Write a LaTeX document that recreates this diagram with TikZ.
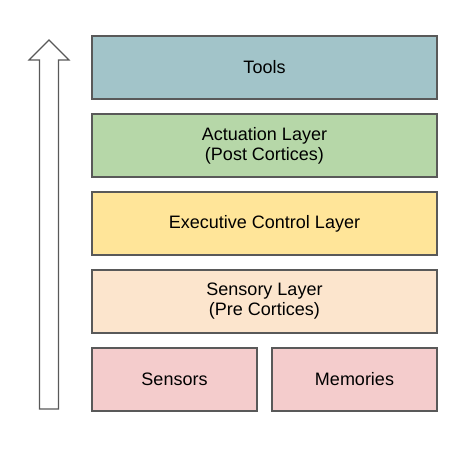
\documentclass[tikz,border=0pt]{standalone}
\usepackage{fontspec}
\setmainfont{Liberation Sans}
\usetikzlibrary{positioning}
\definecolor{boxline}{HTML}{595959}
\definecolor{toolsfill}{HTML}{A2C4C9}
\definecolor{actfill}{HTML}{B6D7A8}
\definecolor{execfill}{HTML}{FFE599}
\definecolor{sensoryfill}{HTML}{FCE5CD}
\definecolor{inputfill}{HTML}{F4CCCC}

\begin{document}
\begin{tikzpicture}[x=1pt, y=1pt, node distance=15pt, every node/.style={font=\fontsize{18}{20}\selectfont, align=center}]
\tikzset{layerbox/.style={draw=boxline, line width=1.2pt, minimum width=345pt, minimum height=63pt, inner sep=0pt, outer sep=0pt}}
\useasboundingbox (0,0) rectangle (473,-457);
\node[layerbox, fill=toolsfill, anchor=north west] (tools) at (92,-36) {Tools};
\node[layerbox, fill=actfill, below=of tools] (act) {Actuation Layer\\(Post Cortices)};
\node[layerbox, fill=execfill, below=of act] (exec) {Executive Control Layer};
\node[layerbox, fill=sensoryfill, below=of exec] (sensory) {Sensory Layer\\(Pre Cortices)};
\node[layerbox, fill=inputfill, minimum width=165pt, below=of sensory.south west, anchor=north west] (sensors) {Sensors};
\node[layerbox, fill=inputfill, minimum width=165pt, below=of sensory.south east, anchor=north east] (mem) {Memories};
% upward flow arrow
\draw[boxline, line width=1.2pt, fill=white] (39.5,-409) -- (39.5,-60) -- (29,-60) -- (49,-40) -- (69,-60) -- (58.5,-60) -- (58.5,-409) -- cycle;
\end{tikzpicture}
\end{document}
